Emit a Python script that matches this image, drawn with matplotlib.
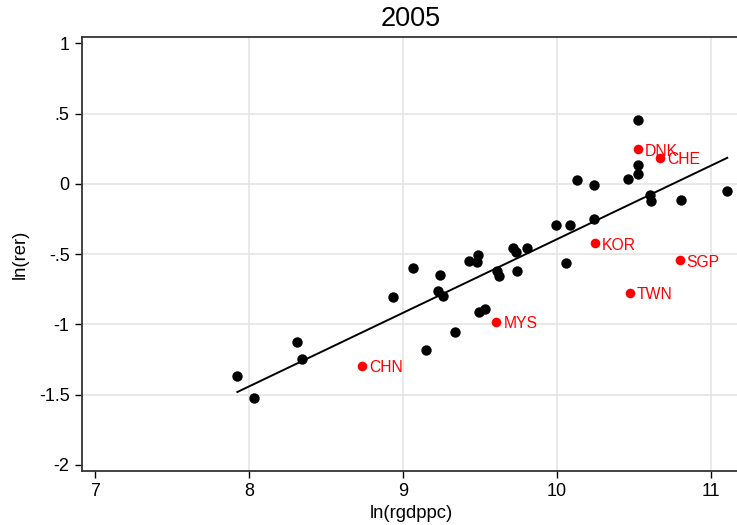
import matplotlib
matplotlib.use("Agg")
import matplotlib.pyplot as plt
import numpy as np

plt.rcParams["font.family"] = ["Liberation Sans", "DejaVu Sans"]

# black points: ln(rgdppc), ln(rer)
x_other = [7.925, 8.033, 8.313, 8.343, 8.934, 9.064, 9.149, 9.231, 9.244, 9.263,
           9.337, 9.428, 9.486, 9.481, 9.495, 9.536, 9.609, 9.627, 9.718, 9.735,
           9.740, 9.807, 9.996, 10.060, 10.088, 10.130, 10.240, 10.240, 10.461, 10.528,
           10.528, 10.528, 10.606, 10.613, 10.804, 11.107]
y_other = [-1.365, -1.526, -1.124, -1.244, -0.806, -0.601, -1.185, -0.764, -0.652, -0.801,
           -1.056, -0.550, -0.506, -0.555, -0.910, -0.893, -0.623, -0.655, -0.458, -0.482,
           -0.618, -0.458, -0.295, -0.560, -0.295, 0.024, -0.005, -0.251, 0.031, 0.453,
           0.134, 0.073, -0.078, -0.122, -0.112, -0.054]

# highlighted countries
codes = ["CHN", "MYS", "KOR", "TWN", "SGP", "DNK", "CHE"]
x_hl = [8.737, 9.607, 10.249, 10.474, 10.797, 10.528, 10.673]
y_hl = [-1.295, -0.981, -0.421, -0.774, -0.543, 0.248, 0.185]

xticks = [7, 8, 9, 10, 11]
yticks = [1, 0.5, 0, -0.5, -1, -1.5, -2]
ytick_labels = ["1", ".5", "0", "-.5", "-1", "-1.5", "-2"]

fig = plt.figure(figsize=(7.37, 5.25), dpi=100)
ax = fig.add_axes([0.1113, 0.1029, 0.8928, 0.8267])

# OLS fit over all countries
x_all = np.array(x_other + x_hl)
y_all = np.array(y_other + y_hl)
b, a = np.polyfit(x_all, y_all, 1)
xf = np.array([x_all.min(), x_all.max()])
ax.plot(xf, a + b * xf, color="black", lw=1.4, zorder=2)

ax.scatter(x_other, y_other, s=56, color="black", lw=0, zorder=3)
ax.scatter(x_hl, y_hl, s=48, color="#ff0000", lw=0, zorder=3)
for c, xv, yv in zip(codes, x_hl, y_hl):
    ax.annotate(c, (xv, yv), xytext=(5, -1.5), textcoords="offset points",
                va="center", ha="left", color="#ff0000", fontsize=11.3, zorder=4)

ax.set_xlim(6.916, 11.19)
ax.set_ylim(-2.043, 1.045)
ax.set_xticks(xticks)
ax.set_yticks(yticks)
ax.set_yticklabels(ytick_labels)
ax.tick_params(axis="both", direction="out", length=5, width=1, labelsize=13, pad=4)

ax.grid(True, color="#e3e3e3", lw=1.1, zorder=0)
ax.set_axisbelow(True)
for t, v in zip(ax.xaxis.get_major_ticks(), xticks):
    t.gridline.set_visible(v not in (7,))
for t, v in zip(ax.yaxis.get_major_ticks(), yticks):
    t.gridline.set_visible(v not in (1, -2))

for side in ["left", "bottom", "top"]:
    ax.spines[side].set_color("#333333")
    ax.spines[side].set_linewidth(1.3)
ax.spines["right"].set_visible(False)

ax.set_title("2005", fontsize=19.5, pad=8)
ax.set_xlabel("ln(rgdppc)", fontsize=13.3, labelpad=3)
ax.set_ylabel("ln(rer)", fontsize=13.3, labelpad=7)

fig.savefig("out.png", dpi=100, facecolor="white")
